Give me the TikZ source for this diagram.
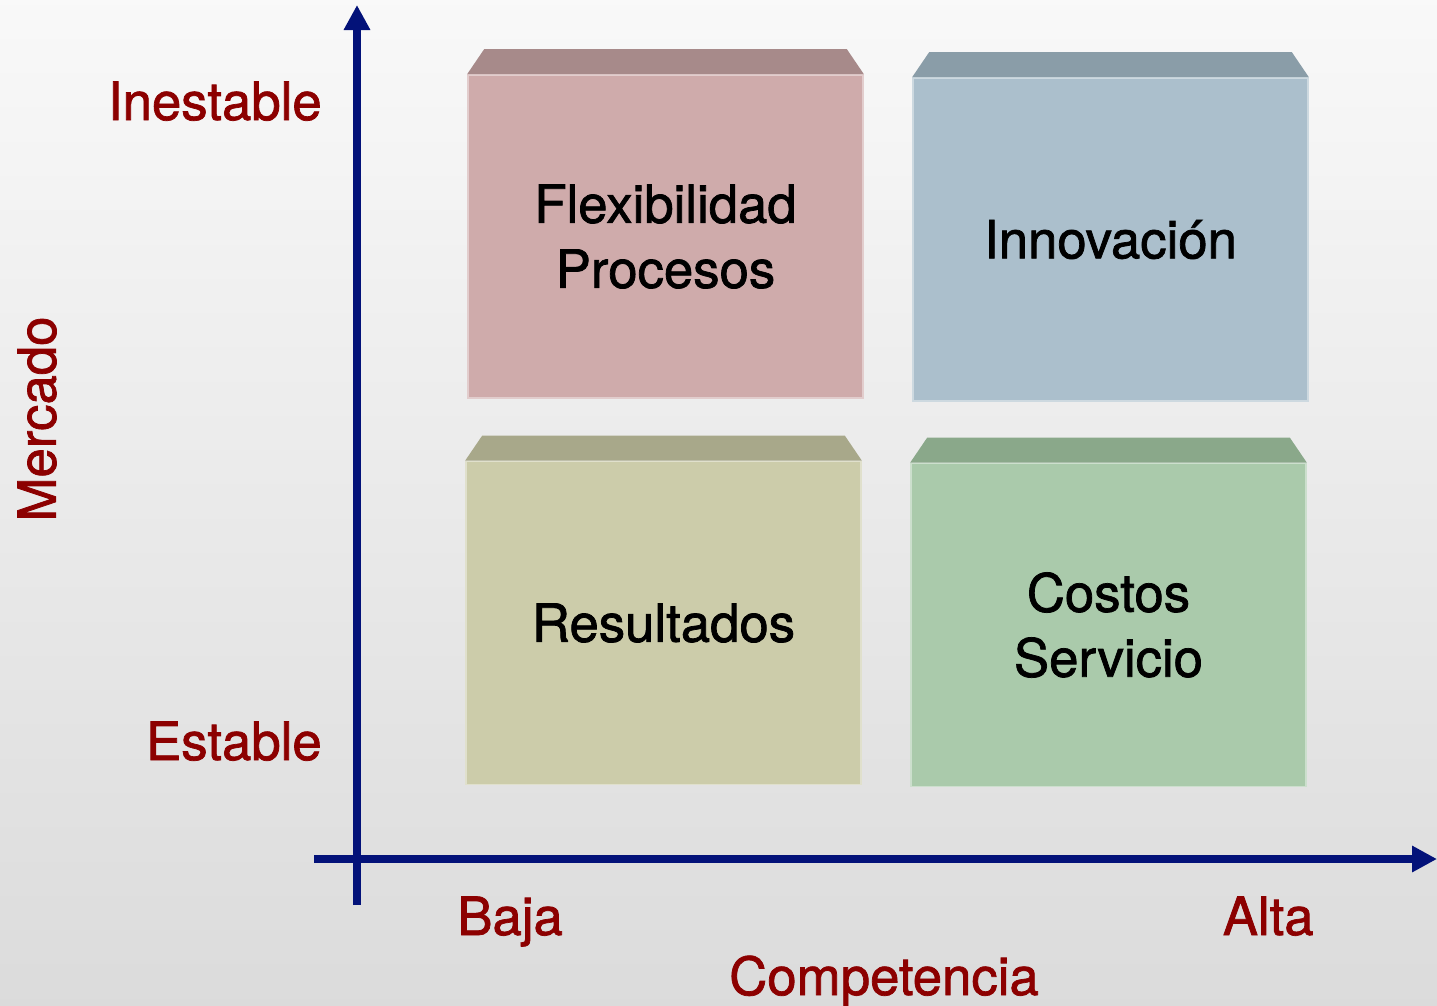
\documentclass[tikz,border=0pt]{standalone}
\usepackage{fontspec}
\setmainfont[FakeBold=1.4]{TeX Gyre Heros}
\usetikzlibrary{positioning,calc,arrows.meta}

\definecolor{axisblue}{HTML}{031279}
\definecolor{labelred}{HTML}{8C0000}
\definecolor{pinkfront}{HTML}{CFABAB}
\definecolor{pinktop}{HTML}{A78A8A}
\definecolor{bluefront}{HTML}{ABBFCC}
\definecolor{bluetop}{HTML}{8A9DA8}
\definecolor{olivefront}{HTML}{CCCCAA}
\definecolor{olivetop}{HTML}{A8A88A}
\definecolor{greenfront}{HTML}{AACAAB}
\definecolor{greentop}{HTML}{8AA88A}

\newcommand{\boxtop}[2]{\fill[#2] (#1.north west) -- ++(0.34cm,0.5cm) -- ($(#1.north east)+(-0.34cm,0.5cm)$) -- (#1.north east) -- cycle;}

\tikzset{
  quad/.style={minimum width=7.9cm, minimum height=6.46cm, inner sep=0pt, align=center,
    font=\fontsize{30}{37}\selectfont, draw=#1!60!white, line width=1pt, fill=#1},
  axislabel/.style={text=labelred, font=\fontsize{30}{36}\selectfont, inner sep=0pt},
  axisline/.style={draw=axisblue, line width=4.5pt, -{Triangle[width=0.5cm,length=0.5cm]}}
}

\begin{document}
\begin{tikzpicture}[x=0.02cm, y=-0.02cm]
    \clip (0,0) rectangle (1437,1005);
    \shade[top color=white!95!gray, bottom color=black!14!white] (0,0) rectangle (1437,1005);

    \node[quad=pinkfront] (flex) at (665.5,236.5) {Flexibilidad\\Procesos};
    \node[quad=bluefront] (innov) at (1110.5,239.5) {Innovación};
    \node[quad=olivefront] (result) at (663.5,623) {Resultados};
    \node[quad=greenfront] (costos) at (1108.5,625) {Costos\\Servicio};
    \boxtop{flex}{pinktop}
    \boxtop{innov}{bluetop}
    \boxtop{result}{olivetop}
    \boxtop{costos}{greentop}

    \coordinate (yfoot) at (357,905);
    \coordinate (ytip) at (357,5);
    \coordinate (xfoot) at (314,859);
    \coordinate (xtip) at (1437,859);
    \draw[axisline] (yfoot) -- (ytip);
    \draw[axisline] (xfoot) -- (xtip);

    \node[axislabel, anchor=base east] (inest) at (322,120) {Inestable};
    \node[axislabel, anchor=base east] (est) at (322,760) {Estable};
    \node[axislabel, anchor=base west] (baja) at (457,935) {Baja};
    \node[axislabel, anchor=base east] (alta) at (1314,935) {Alta};
    \node[axislabel, anchor=base] (comp) at (884,995) {Competencia};
    \node[axislabel, rotate=90] (merc) at (37,419) {Mercado};
\end{tikzpicture}
\end{document}
